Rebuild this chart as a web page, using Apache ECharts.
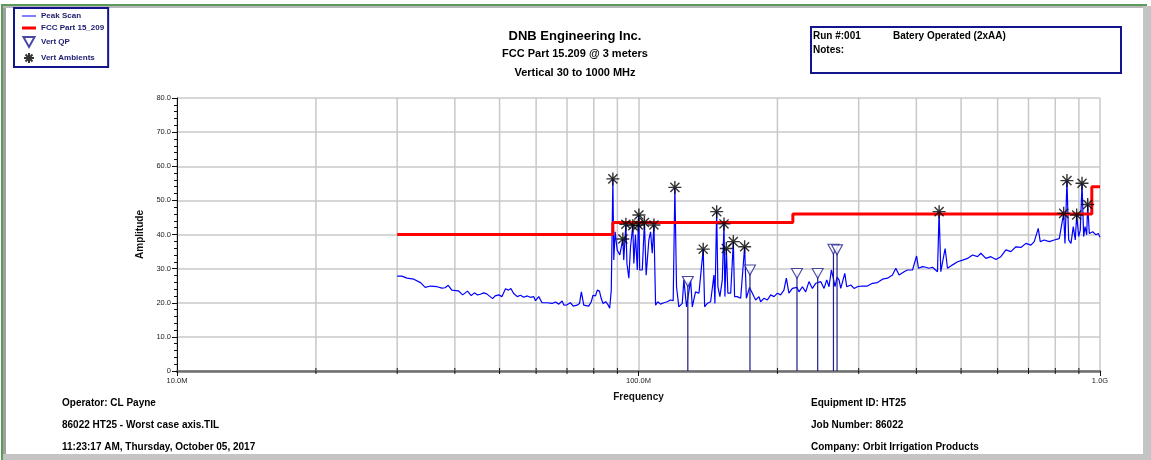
<!DOCTYPE html>
<html><head><meta charset="utf-8">
<script src="https://cdn.jsdelivr.net/npm/echarts@6/dist/echarts.min.js"></script>
<style>html,body{margin:0;padding:0;background:#fff}#c{width:1151px;height:460px}</style>
</head><body><div id="c"></div><script>
// Frequencies in MHz, amplitudes in dBuV/m
const peakFreq=[30.0,30.7,31.5,32.6,33.7,34.5,35.4,36.6,37.5,38.1,38.7,39.4,40.7,41.6,42.6,43.4,44.1,44.8,45.4,46.2,46.9,47.7,48.3,48.9,49.8,50.6,51.5,52.3,52.9,53.6,54.6,55.5,56.4,57.4,58.3,59.3,59.8,60.8,61.8,63.4,65.0,66.1,67.2,68.3,68.9,70.0,71.2,72.2,73.6,74.5,75.2,76.1,78.0,79.0,79.7,80.7,81.4,82.3,83.0,83.8,84.9,86.0,86.6,87.3,
88.0,88.4,89.0,89.9,91.1,92.5,92.9,93.9,94.4,95.3,96.1,97.2,97.7,98.5,99.4,99.9,100.2,100.6,101.9,103.0,103.9,105.3,106.2,107.1,108.0,108.9,110.1,111.6,113.5,115.4,117.3,118.9,119.9,120.9,122.3,124.4,125.4,127.1,129.7,130.8,132.9,135.2,136.3,138.1,139.1,140.9,143.3,145.7,146.4,147.7,148.6,150.1,151.9,153.2,153.9,155.0,156.2,158.4,160.5,161.5,163.7,166.5,169.8,171.3,174.0,176.5,177.9,179.4,181.0,182.4,183.9,187.0,190.2,193.4,196.6,200.0,203.2,206.6,209.1,211.8,215.5,220.5,222.7,226.5,230.3,234.1,238.1,242.1,244.5,248.2,252.4,255.8,258.7,261.8,264.5,266.6,269.3,272.0,274.3,279.9,282.6,288.4,293.2,298.2,305.7,313.4,321.3,329.5,337.8,346.4,355.1,361.0,367.0,376.3,382.8,385.8,392.4,400.5,404.3,412.5,419.4,426.0,433.6,444.5,448.1,451.9,461.7,467.3,479.2,491.3,503.8,516.4,529.5,542.8,551.9,565.8,580.2,594.8,609.8,625.3,641.1,657.3,673.9,691.0,708.5,720.3,734.9,742.2,757.2,776.2,796.0,816.0,834.2,839.7,848.0,855.3,865.2,875.2,883.9,890.2,899.1,906.4,914.2,921.8,928.0,935.8,940.5,948.1,964.3,980.2,991.5,1000];
const peakAmp=[27.8,27.8,27.2,26.9,25.9,24.5,24.9,24.7,24.3,24.4,25.1,23.7,23.5,22.3,23.4,22.1,22.9,22.3,22.5,22.9,22.6,21.8,21.2,22.0,22.3,21.8,24.1,23.7,24.2,22.8,21.8,22.2,21.6,22.0,21.6,21.8,20.6,21.8,20.0,20.0,19.8,20.2,19.6,20.5,19.3,19.4,20.0,19.0,19.3,19.8,23.2,19.3,19.0,20.3,22.2,22.0,23.7,23.4,21.3,19.8,20.3,19.3,18.4,23.7,
56.3,32.5,40.8,35.5,34.0,38.7,32.5,43.0,31.5,27.2,36.4,42.6,31.5,39.9,29.6,42.8,45.7,29.6,29.6,43.5,28.1,38.4,40.8,34.5,42.8,19.3,20.3,19.6,20.0,20.3,20.8,20.6,53.8,24.7,18.8,19.8,26.7,18.8,26.7,18.8,23.2,22.8,23.2,35.7,18.8,19.8,20.3,28.1,19.8,46.7,24.7,21.8,26.7,43.1,21.8,35.9,22.8,22.8,37.9,21.8,21.8,21.3,36.4,21.3,24.5,22.8,21.8,20.8,20.8,21.8,20.3,21.3,20.8,22.3,21.8,22.8,22.3,23.7,27.2,22.8,24.2,24.5,23.2,24.7,23.2,26.2,24.2,25.7,26.0,26.2,24.2,26.7,24.7,29.6,27.0,24.7,27.5,26.7,24.2,28.6,24.7,25.2,24.2,24.7,24.9,24.9,25.7,25.9,26.9,27.2,28.1,30.1,28.1,29.1,29.6,30.1,29.6,33.7,30.1,30.6,30.4,30.1,30.4,29.1,46.7,29.1,35.9,30.1,31.1,32.0,32.5,33.0,34.0,33.5,34.5,33.0,33.5,32.7,33.5,35.5,35.0,36.4,36.2,37.4,36.9,37.9,41.8,37.9,38.4,37.9,38.4,38.8,46.2,37.4,55.8,38.4,37.4,42.3,38.4,45.7,39.4,41.3,55.0,39.4,42.3,39.9,48.8,40.3,40.8,39.9,40.3,39.2];
const limitFreq=[30,88,88,216,216,960,960,1000];
const limitAmp=[40,40,43.5,43.5,46,46,54,54];
const qpFreq=[127.9,174.4,220.5,244.5,264.5,269.3];
const qpAmp=[26.2,29.6,28.6,28.6,35.7,35.5];
const ambFreq=[88.0,92.5,93.9,97.2,99.9,100.2,103.0,108.0,119.9,138.1,147.7,153.2,155.0,160.5,169.8,448.1,834.2,848.0,890.2,914.2,940.5];
const ambAmp=[56.3,38.7,43.0,42.6,42.8,45.7,43.5,42.8,53.8,35.7,46.7,43.1,35.9,37.9,36.4,46.7,46.2,55.8,45.7,55.0,48.8];
const minorFreq=[20,30,40,50,60,70,80,90,200,300,400,500,600,700,800,900];
const xMin=10, xMax=1000, yMin=0, yMax=80, yStep=10;

const FONT='"Liberation Sans", Arial, Helvetica, sans-serif';
const zip=(a,b)=>a.map((v,i)=>[v,b[i]]);
const NAVY='#14148c';
const STAR='path://M6,0L6,12M0,6L12,6M1.8,1.8L10.2,10.2M10.2,1.8L1.8,10.2';
const TRI='path://M0,0L10,0L5,9Z';
const chart=echarts.init(document.getElementById('c'));
const txt=(x,y,t,size,align)=>({type:'text',x:x,y:y,silent:true,z:10,style:{text:t,font:'bold '+size+'px '+FONT,fill:'#000',align:align||'left',verticalAlign:'middle'}});
chart.setOption({
  animation:false,
  textStyle:{fontFamily:FONT},
  grid:{left:177,right:51,top:98,bottom:89},
  legend:{
    left:14,top:8,orient:'vertical',padding:[4,4,3,8],itemGap:4,itemWidth:14,itemHeight:10,
    borderColor:NAVY,borderWidth:2,backgroundColor:'#fff',
    textStyle:{fontSize:8,fontWeight:'bold',color:'#1a1a6e',fontFamily:FONT},
    data:[
      {name:'Peak Scan',icon:'path://M0,0H14V2H0Z',itemStyle:{color:'#7f7fff'}},
      {name:'FCC Part 15_209',icon:'path://M0,0H14V3H0Z'},
      {name:'Vert QP',icon:TRI},
      {name:'Vert Ambients',icon:STAR}
    ]
  },
  xAxis:{
    type:'log',logBase:10,min:xMin,max:xMax,
    name:'Frequency',nameLocation:'middle',nameGap:21,
    nameTextStyle:{fontWeight:'bold',fontSize:10,color:'#111'},
    axisLine:{onZero:false,lineStyle:{color:'#6e6e6e',width:2.5}},
    axisTick:{show:true,length:5,lineStyle:{color:'#111'}},
    axisLabel:{fontSize:7.5,color:'#222',margin:6,formatter:v=>v>=1000?(v/1000).toFixed(1)+'G':v.toFixed(1)+'M'},
    splitLine:{show:true,lineStyle:{color:'#c8c8c8',width:1.5}}
  },
  yAxis:{
    type:'value',min:yMin,max:yMax,interval:yStep,
    name:'Amplitude',nameLocation:'middle',nameGap:29,nameRotate:90,
    nameTextStyle:{fontWeight:'bold',fontSize:10,color:'#111'},
    axisLine:{show:true,lineStyle:{color:'#111',width:1}},
    axisTick:{show:true,length:5,lineStyle:{color:'#111'}},
    minorTick:{show:true,splitNumber:5,length:3,lineStyle:{color:'#111'}},
    axisLabel:{fontSize:7.5,color:'#222',margin:6,formatter:v=>v===0?'0':v.toFixed(1)},
    splitLine:{show:true,lineStyle:{color:'#c8c8c8',width:1.5}}
  },
  graphic:[
    {type:'rect',shape:{x:1,y:4,width:1146,height:2},style:{fill:'#5b9a5b'},silent:true},
    {type:'rect',shape:{x:1,y:4,width:2,height:456},style:{fill:'#5b9a5b'},silent:true},
    {type:'rect',shape:{x:3,y:6,width:3,height:454},style:{fill:'#a0a0a0'},silent:true},
    {type:'rect',shape:{x:3,y:6,width:1141,height:2},style:{fill:'#b8b8b8'},silent:true},
    {type:'rect',shape:{x:1143,y:6,width:8,height:454},style:{fill:'#c4c4c4'},silent:true},
    {type:'rect',shape:{x:3,y:454,width:1148,height:6},style:{fill:'#c4c4c4'},silent:true},
    txt(575,36,'DNB Engineering Inc.',13,'center'),
    txt(575,54,'FCC Part 15.209 @ 3 meters',11,'center'),
    txt(575,73,'Vertical 30 to 1000 MHz',11,'center'),
    {type:'rect',shape:{x:811,y:27,width:310,height:46},style:{fill:'none',stroke:NAVY,lineWidth:2},silent:true},
    txt(813,36,'Run #:001',10),
    txt(893,36,'Batery Operated (2xAA)',10),
    txt(813,50,'Notes:',10),
    txt(62,403,'Operator: CL Payne',10),
    txt(62,425,'86022 HT25 - Worst case axis.TIL',10),
    txt(62,447,'11:23:17 AM, Thursday, October 05, 2017',10),
    txt(811,403,'Equipment ID: HT25',10),
    txt(811,425,'Job Number: 86022',10),
    txt(811,447,'Company: Orbit Irrigation Products',10)
  ],
  series:[
    {type:'custom',name:'minorGrid',silent:true,z:1,clip:false,data:minorFreq.map(f=>[f]),
     renderItem:(p,api)=>{const a=api.coord([api.value(0),yMin]);const b=api.coord([api.value(0),yMax]);
       return {type:'group',children:[
         {type:'line',shape:{x1:a[0],y1:a[1],x2:b[0],y2:b[1]},style:{stroke:'#c8c8c8',lineWidth:1.5}},
         {type:'line',shape:{x1:a[0],y1:a[1]-3,x2:a[0],y2:a[1]+3},style:{stroke:'#111',lineWidth:1},z2:50}
       ]};}},
    {type:'line',name:'Peak Scan',data:zip(peakFreq,peakAmp),symbol:'none',z:3,
     lineStyle:{color:'#0000ff',width:1.2},itemStyle:{color:'#0000ff'}},
    {type:'line',name:'FCC Part 15_209',data:zip(limitFreq,limitAmp),symbol:'none',z:4,
     lineStyle:{color:'#ff0000',width:3},itemStyle:{color:'#ff0000'}},
    {type:'custom',name:'qpStem',silent:true,z:5,data:zip(qpFreq,qpAmp),
     renderItem:(p,api)=>{const a=api.coord([api.value(0),yMin]);const b=api.coord([api.value(0),api.value(1)]);
       return {type:'line',shape:{x1:a[0],y1:a[1],x2:b[0],y2:b[1]},style:{stroke:'#1c1c8c',lineWidth:1.2}};}},
    {type:'scatter',name:'Vert QP',data:zip(qpFreq,qpAmp),z:6,
     symbol:TRI,symbolSize:[11,10],
     itemStyle:{color:'#ffffff',borderColor:'#1c1c8c',borderWidth:1.1}},
    {type:'scatter',name:'Vert Ambients',data:zip(ambFreq,ambAmp),z:7,
     symbol:STAR,symbolSize:13,
     itemStyle:{color:'rgba(0,0,0,0)',borderColor:'#000',borderWidth:1.4}}
  ]
});
</script></body></html>
